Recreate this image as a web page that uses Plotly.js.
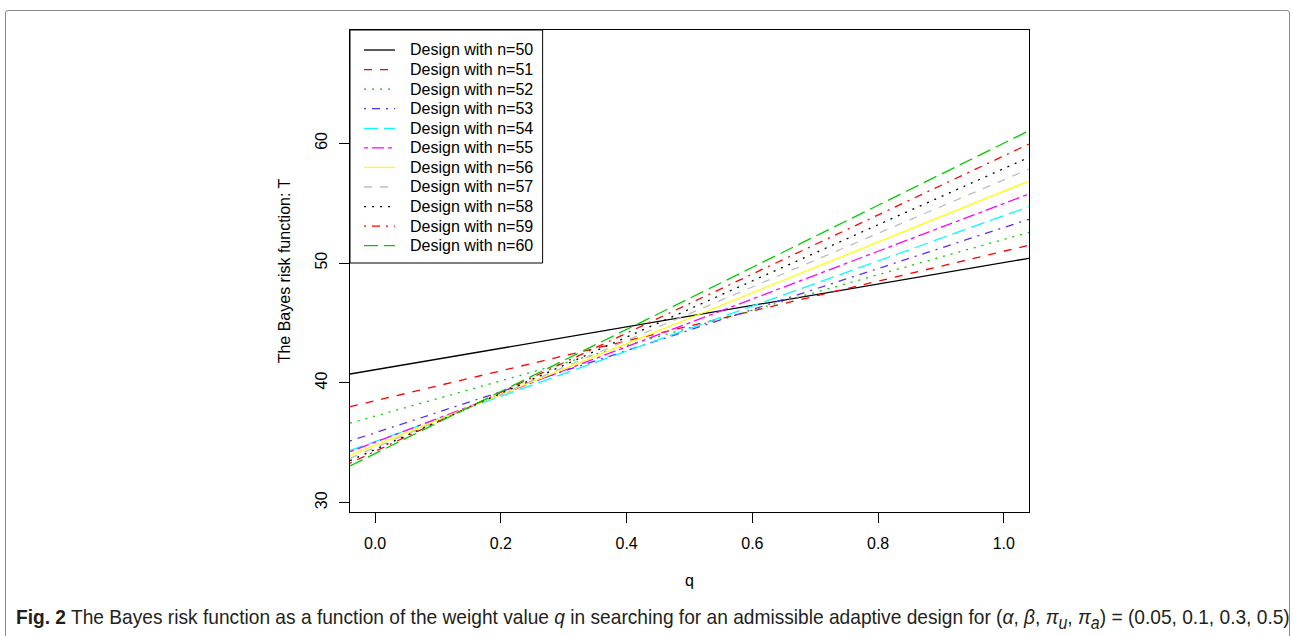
<!DOCTYPE html>
<html>
<head>
<meta charset="utf-8">
<script src="https://cdn.plot.ly/plotly-3.0.1.min.js"></script>
<style>
  body { margin: 0; background: #fff; }
  #wrap { position: relative; width: 1293px; height: 636px; overflow: hidden; background: #fff; }
  #chart { position: absolute; left: 0; top: 0; width: 1293px; height: 636px; }
  #frame { position: absolute; left: 5px; top: 10px; width: 1283px; height: 640px; border: 1px solid #8a8a8a; border-radius: 3px; pointer-events: none; }
  #cap { position: absolute; left: 16px; top: 604px; white-space: nowrap; line-height: 26px;
         font-family: "Liberation Sans Narrow", "Liberation Sans", Arial, sans-serif; font-size: 21px; color: #231f20; transform-origin: 0 0; }
</style>
</head>
<body>
<div id="wrap">
  <div id="chart"></div>
  <div id="frame"></div>
  <div id="cap"><b>Fig. 2</b> The Bayes risk function as a function of the weight value <i>q</i> in searching for an admissible adaptive design for (<i>α</i>, <i>β</i>, <i>π</i><sub><i>u</i></sub>, <i>π</i><sub><i>a</i></sub>) = (0.05, 0.1, 0.3, 0.5)</div>
</div>
<script>
// ---------------- data ----------------
// q values at the two ends of each line (lines span the full plotting region)
const qEnds = [-0.04, 1.04];
const designN = [50, 51, 52, 53, 54, 55, 56, 57, 58, 59, 60];
// Bayes risk T at q = -0.04 and q = 1.04
const T_n50 = [40.74, 50.40];
const T_n51 = [38.01, 51.49];
const T_n52 = [36.63, 52.57];
const T_n53 = [35.15, 53.66];
const T_n54 = [34.35, 54.71];
const T_n55 = [34.25, 55.77];
const T_n56 = [33.95, 56.85];
const T_n57 = [33.70, 57.85];
const T_n58 = [33.50, 58.83];
const T_n59 = [33.30, 59.94];
const T_n60 = [33.06, 61.05];
const xTicks = [0, 0.2, 0.4, 0.6, 0.8, 1.0];
const xTickText = ["0.0", "0.2", "0.4", "0.6", "0.8", "1.0"];
const yTicks = [30, 40, 50, 60];

// ---------------- styles ----------------
const seriesT = [T_n50, T_n51, T_n52, T_n53, T_n54, T_n55, T_n56, T_n57, T_n58, T_n59, T_n60];
const colors = ["#000000", "#ff0000", "#00cd00", "#5a2dff", "#00ffff", "#ff00ff", "#ffff00", "#bebebe", "#000000", "#ff0000", "#00cd00"];
const ltyDash = {1: "solid", 2: "8px,8px", 3: "2px,6px", 4: "2px,6px,8px,6px", 5: "14px,6px", 6: "4px,4px,12px,4px"};
const ltys = [1, 2, 3, 4, 5, 6, 1, 2, 3, 4, 5];
const LW = 1.3;
const FONT = "Liberation Sans, Arial, sans-serif";

const traces = designN.map((n, i) => ({
  type: "scatter", mode: "lines",
  x: qEnds, y: seriesT[i],
  name: "Design with n=" + n,
  line: {color: colors[i], width: LW, dash: ltyDash[ltys[i]]},
  showlegend: false, hoverinfo: "x+y+name"
}));

// plot region in pixels
const L = 350, R = 1029.3, TOP = 30, BOT = 512;
const W = R - L, H = BOT - TOP;
const px = p => (p - L) / W;
const py = p => (BOT - p) / H;

// manual R-style legend
const shapes = [{
  type: "rect", xref: "paper", yref: "paper",
  x0: 0, x1: px(542.7), y0: py(263), y1: 1,
  line: {color: "#000", width: 1}, fillcolor: "rgba(255,255,255,1)", layer: "above"
}];
const annotations = [];
designN.forEach((n, i) => {
  const yc = 50 + i * 19.57;
  shapes.push({
    type: "line", xref: "paper", yref: "paper",
    x0: px(364), x1: px(395), y0: py(yc), y1: py(yc),
    line: {color: colors[i], width: LW, dash: ltyDash[ltys[i]]}, layer: "above"
  });
  annotations.push({
    xref: "paper", yref: "paper", x: px(408), y: py(yc),
    xanchor: "left", yanchor: "middle", showarrow: false,
    text: "Design with n=" + n, font: {family: FONT, size: 16, color: "#000"}
  });
});

const layout = {
  width: 1293, height: 636,
  margin: {l: L, r: 1293 - R, t: TOP, b: 636 - BOT, pad: 0},
  paper_bgcolor: "rgba(0,0,0,0)", plot_bgcolor: "#fff",
  showlegend: false,
  font: {family: FONT, size: 16, color: "#000"},
  xaxis: {
    range: [-0.04, 1.04], tickvals: xTicks, ticktext: xTickText,
    showline: true, mirror: true, linecolor: "#000", linewidth: 1,
    ticks: "outside", ticklen: 10, tickcolor: "#000", tickwidth: 1,
    showgrid: false, zeroline: false, automargin: false, ticklabelstandoff: 7,
    tickfont: {family: FONT, size: 16, color: "#000"},
    title: {text: "q", font: {family: FONT, size: 16, color: "#000"}, standoff: 23}
  },
  yaxis: {
    range: [29.22, 69.46], tickvals: yTicks,
    showline: true, mirror: true, linecolor: "#000", linewidth: 1,
    ticks: "outside", ticklen: 10, tickcolor: "#000", tickwidth: 1,
    showgrid: false, zeroline: false, automargin: false, tickangle: -90, ticklabelstandoff: 6,
    tickfont: {family: FONT, size: 16, color: "#000"},
    title: {text: "The Bayes risk function: T", font: {family: FONT, size: 16, color: "#000"}, standoff: 17}
  },
  shapes: shapes,
  annotations: annotations
};

Plotly.newPlot("chart", traces, layout, {displayModeBar: false, responsive: false}).then(() => {
  const cap = document.getElementById("cap");
  const w = cap.scrollWidth;
  const target = 1274;
  cap.style.transform = "scaleX(" + (target / w) + ")";
});
</script>
</body>
</html>
